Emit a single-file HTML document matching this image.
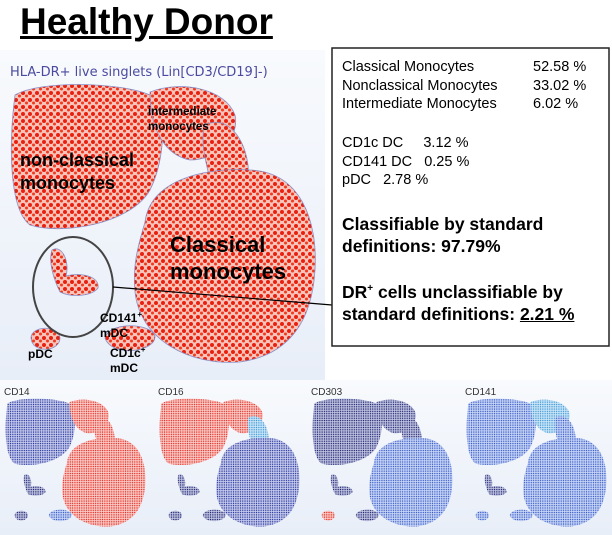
<!DOCTYPE html>
<html><head><meta charset="utf-8"><style>
body{margin:0;width:612px;height:535px;overflow:hidden;background:#fff;font-family:"Liberation Sans",Arial,sans-serif;position:relative}
.t{position:absolute;white-space:nowrap;color:#000}
</style></head><body>
<svg width="612" height="535" style="position:absolute;left:0;top:0">
<defs>
<linearGradient id="bg" x1="0" y1="0" x2="0" y2="1"><stop offset="0" stop-color="#f8fafd"/><stop offset="1" stop-color="#e8eef8"/></linearGradient>
<pattern id="pr" width="7" height="7" patternUnits="userSpaceOnUse"><rect width="7" height="7" fill="#f8c4bc"/><circle cx="2" cy="2" r="2" fill="#e8200f"/><circle cx="5.5" cy="5" r="1.5" fill="#f03a1e"/></pattern>
<pattern id="sr" width="5" height="5" patternUnits="userSpaceOnUse"><rect width="5" height="5" fill="#f8ccc8"/><circle cx="2" cy="2" r="1.5" fill="#e81e14"/></pattern>
<pattern id="sb" width="5" height="5" patternUnits="userSpaceOnUse"><rect width="5" height="5" fill="#c8cceb"/><circle cx="2" cy="2" r="1.5" fill="#1a2a9a"/></pattern>
<pattern id="sd" width="5" height="5" patternUnits="userSpaceOnUse"><rect width="5" height="5" fill="#c0c4e0"/><circle cx="2" cy="2" r="1.5" fill="#14186a"/></pattern>
<pattern id="sm" width="5" height="5" patternUnits="userSpaceOnUse"><rect width="5" height="5" fill="#c8d6f4"/><circle cx="2" cy="2" r="1.5" fill="#2d50c8"/></pattern>
<pattern id="sc" width="5" height="5" patternUnits="userSpaceOnUse"><rect width="5" height="5" fill="#cce6f6"/><circle cx="2" cy="2" r="1.5" fill="#3090d8"/></pattern>
</defs>
<rect x="0" y="50" width="325" height="330" fill="url(#bg)"/>
<rect x="0" y="380" width="612" height="155" fill="url(#bg)"/>
<g id="main"></g>
<g id="panels"></g>
<ellipse cx="73" cy="287" rx="40" ry="50" fill="none" stroke="#444" stroke-width="2"/>
<line x1="113" y1="287" x2="332" y2="305" stroke="#000" stroke-width="1.2"/>
<rect x="332" y="48" width="277" height="298" fill="#fff" stroke="#222" stroke-width="1.5"/>
<text x="10" y="76" font-size="13" fill="#4a4aa0" font-family="DejaVu Sans, sans-serif">HLA-DR+ live singlets (Lin[CD3/CD19]-)</text>
<g font-family="Liberation Sans, sans-serif" font-size="10" fill="#333">
<text x="4" y="395">CD14</text>
<text x="158" y="395">CD16</text>
<text x="311" y="395">CD303</text>
<text x="465" y="395">CD141</text>
</g>
</svg>
<div class="t" style="left:20px;top:1px;font-size:37px;font-weight:bold;text-decoration:underline">Healthy Donor</div>
<div class="t" style="left:148px;top:105px;font-size:11.5px;font-weight:bold;line-height:15px">intermediate<br>monocytes</div>
<div class="t" style="left:20px;top:149px;font-size:18px;font-weight:bold;line-height:23px">non-classical<br>monocytes</div>
<div class="t" style="left:170px;top:231px;font-size:22px;font-weight:bold;line-height:27px">Classical<br>monocytes</div>
<div class="t" style="left:100px;top:307px;font-size:12px;font-weight:bold;line-height:15px">CD141<sup style="font-size:8px">+</sup><br>mDC</div>
<div class="t" style="left:110px;top:342px;font-size:12px;font-weight:bold;line-height:15px">CD1c<sup style="font-size:8px">+</sup><br>mDC</div>
<div class="t" style="left:28px;top:347px;font-size:12px;font-weight:bold">pDC</div>
<div class="t" style="left:342px;top:58px;font-size:14.5px;line-height:18.5px">Classical Monocytes<br>Nonclassical Monocytes<br>Intermediate Monocytes</div>
<div class="t" style="left:533px;top:58px;font-size:14.5px;line-height:18.5px">52.58 %<br>33.02 %<br>6.02 %</div>
<div class="t" style="left:342px;top:134px;font-size:14.5px;line-height:18.5px">CD1c DC &nbsp;&nbsp;&nbsp;&nbsp;3.12 %<br>CD141 DC &nbsp;&nbsp;0.25 %<br>pDC &nbsp;&nbsp;2.78 %</div>
<div class="t" style="left:342px;top:213px;font-size:17.5px;font-weight:bold;line-height:22px">Classifiable by standard<br>definitions: 97.79%</div>
<div class="t" style="left:342px;top:278px;font-size:17.5px;font-weight:bold;line-height:22px">DR<sup style="font-size:10px">+</sup> cells unclassifiable by<br>standard definitions: <u>2.21 %</u></div>
<script>
const NS='http://www.w3.org/2000/svg';
const shapeNames=['nonclassical','intermediate','bridge','classical','unclass','pdc','cd1c'];
const shapePaths=[
'M15,95 C40,80 120,82 150,95 C168,112 165,160 150,190 C130,225 60,235 30,225 C10,210 8,150 15,95 Z',
'M150,92 C180,80 225,88 235,115 C240,140 215,160 190,160 C165,155 150,130 150,92 Z',
'M205,125 C232,112 252,150 248,182 L212,188 C205,160 200,140 205,125 Z',
'M145,222 C150,182 200,167 250,170 C300,172 318,220 315,270 C312,320 290,355 240,362 C190,366 140,340 135,292 C132,262 140,240 145,222 Z',
'M52,250 C62,244 70,262 66,276 C80,272 100,276 98,288 C92,296 72,298 60,292 C54,280 48,262 52,250 Z',
'M31,338 C31,326 58,324 60,338 C60,352 32,354 31,338 Z',
'M105,338 C108,322 150,322 155,336 C156,352 112,358 105,338 Z'];
const panelX=[0,154,307,461];
const panelFills=[
['sb','sr','sr','sr','sd','sd','sm'],
['sr','sr','sc','sb','sd','sd','sd'],
['sd','sd','sd','sm','sd','sr','sd'],
['sm','sc','sm','sm','sd','sm','sm']];
function mk(tag,a){const e=document.createElementNS(NS,tag);for(const k in a)e.setAttribute(k,a[k]);return e;}
const main=document.getElementById('main');
shapePaths.forEach((d,i)=>{
  const p=mk('path',{d:d,fill:'url(#pr)',stroke:'#8890c8','stroke-width':'0.8'});
  
  
  main.appendChild(p);
});
const panels=document.getElementById('panels');
const s=0.46;
panelX.forEach((px,j)=>{
  const g=mk('g',{transform:'translate('+(px+5-10*s)+','+(398-83*s)+') scale('+s+')'});
  
  
  shapePaths.forEach((d,i)=>{
    const p=mk('path',{d:d,fill:'url(#'+panelFills[j][i]+')'});
    
    
    g.appendChild(p);
  });
  panels.appendChild(g);
});
</script>
</body></html>
